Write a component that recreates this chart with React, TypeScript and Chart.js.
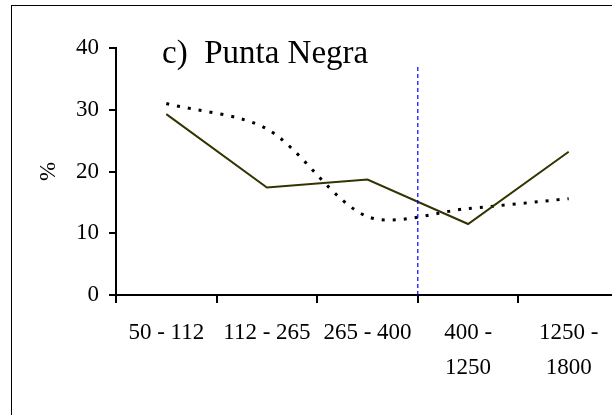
import React, { useEffect, useRef } from "react";
import { Chart, registerables } from "chart.js";

Chart.register(...registerables);

const categories: string[][] = [
  ["50 - 112"],
  ["112 - 265"],
  ["265 - 400"],
  ["400 -", "1250"],
  ["1250 -", "1800"],
];
const solidSeries = [29.3, 17.4, 18.7, 11.5, 23.2];
const dottedSeries = [31.0, 26.9, 12.7, 14.0, 15.6];
const boundaryX = 2.5;
const boundaryTop = 37;
const yMin = 0;
const yMax = 40;
const yStep = 10;
const chartTitle = "c)  Punta Negra";
const yTitle = "%";

const FONT = "'Liberation Serif', 'Times New Roman', serif";

export default function App() {
  const ref = useRef<HTMLCanvasElement>(null);

  useEffect(() => {
    if (!ref.current) return;
    document.body.style.margin = "0";
    document.body.style.overflow = "hidden";

    const titlePlugin = {
      id: "panelTitle",
      afterDraw(chart: any) {
        const ctx = chart.ctx;
        ctx.save();
        ctx.font = `33px ${FONT}`;
        ctx.fillStyle = "#000";
        ctx.textBaseline = "alphabetic";
        ctx.textAlign = "left";
        ctx.fillText(chartTitle, 162, 63);
        ctx.restore();
      },
    };

    const chart = new Chart(ref.current, {
      type: "line",
      data: {
        labels: categories,
        datasets: [
          {
            label: "boundary",
            xAxisID: "x2",
            data: [
              { x: boundaryX, y: yMin },
              { x: boundaryX, y: boundaryTop },
            ],
            borderColor: "#0000ff",
            borderWidth: 1.2,
            borderDash: [4, 3],
            pointRadius: 0,
            fill: false,
          },
          {
            label: "solid",
            data: solidSeries,
            borderColor: "#333300",
            borderWidth: 2,
            pointRadius: 0,
            tension: 0,
            fill: false,
          },
          {
            label: "dotted",
            data: dottedSeries,
            borderColor: "#000000",
            borderWidth: 3,
            borderDash: [3, 8],
            borderCapStyle: "butt",
            pointRadius: 0,
            tension: 0.3,
            fill: false,
          },
        ],
      },
      options: {
        responsive: false,
        animation: false,
        events: [],
        layout: { padding: { left: 0, top: 48, right: 41, bottom: 0 } },
        plugins: {
          legend: { display: false },
          tooltip: { enabled: false },
          title: { display: false },
        },
        scales: {
          x: {
            type: "category",
            offset: true,
            grid: {
              display: true,
              offset: true,
              drawOnChartArea: false,
              drawTicks: true,
              tickLength: 8,
              color: "#000",
              lineWidth: 2,
            },
            border: { display: true, color: "#000", width: 2 },
            ticks: {
              color: "#000",
              font: { family: FONT, size: 23, lineHeight: 35 / 23 },
              padding: 12,
              maxRotation: 0,
              minRotation: 0,
              autoSkip: false,
            },
            afterFit: (s: any) => {
              s.height = 120;
            },
          },
          x2: {
            type: "linear",
            display: false,
            min: -0.5,
            max: categories.length - 0.5,
          },
          y: {
            min: yMin,
            max: yMax,
            grid: {
              display: true,
              drawOnChartArea: false,
              drawTicks: true,
              tickLength: 7,
              color: "#000",
              lineWidth: 2,
            },
            border: { display: true, color: "#000", width: 2 },
            ticks: {
              stepSize: yStep,
              color: "#000",
              font: { family: FONT, size: 23 },
              padding: 10,
            },
            title: {
              display: true,
              text: yTitle,
              color: "#000",
              font: { family: FONT, size: 23 },
              padding: { top: 35, bottom: 0 },
            },
            afterFit: (s: any) => {
              s.width = 116;
            },
          },
        },
      },
      plugins: [titlePlugin],
    });
    return () => chart.destroy();
  }, []);

  return (
    <div
      style={{
        position: "fixed",
        left: 0,
        top: 0,
        width: 612,
        height: 415,
        overflow: "hidden",
        background: "#fff",
      }}
    >
      <div
        style={{
          position: "absolute",
          left: 11,
          top: 5,
          width: 700,
          height: 500,
          border: "1px solid #000",
          boxSizing: "border-box",
        }}
      />
      <canvas
        ref={ref}
        width={660}
        height={415}
        style={{ position: "absolute", left: 0, top: 0, width: 660, height: 415 }}
      />
    </div>
  );
}
